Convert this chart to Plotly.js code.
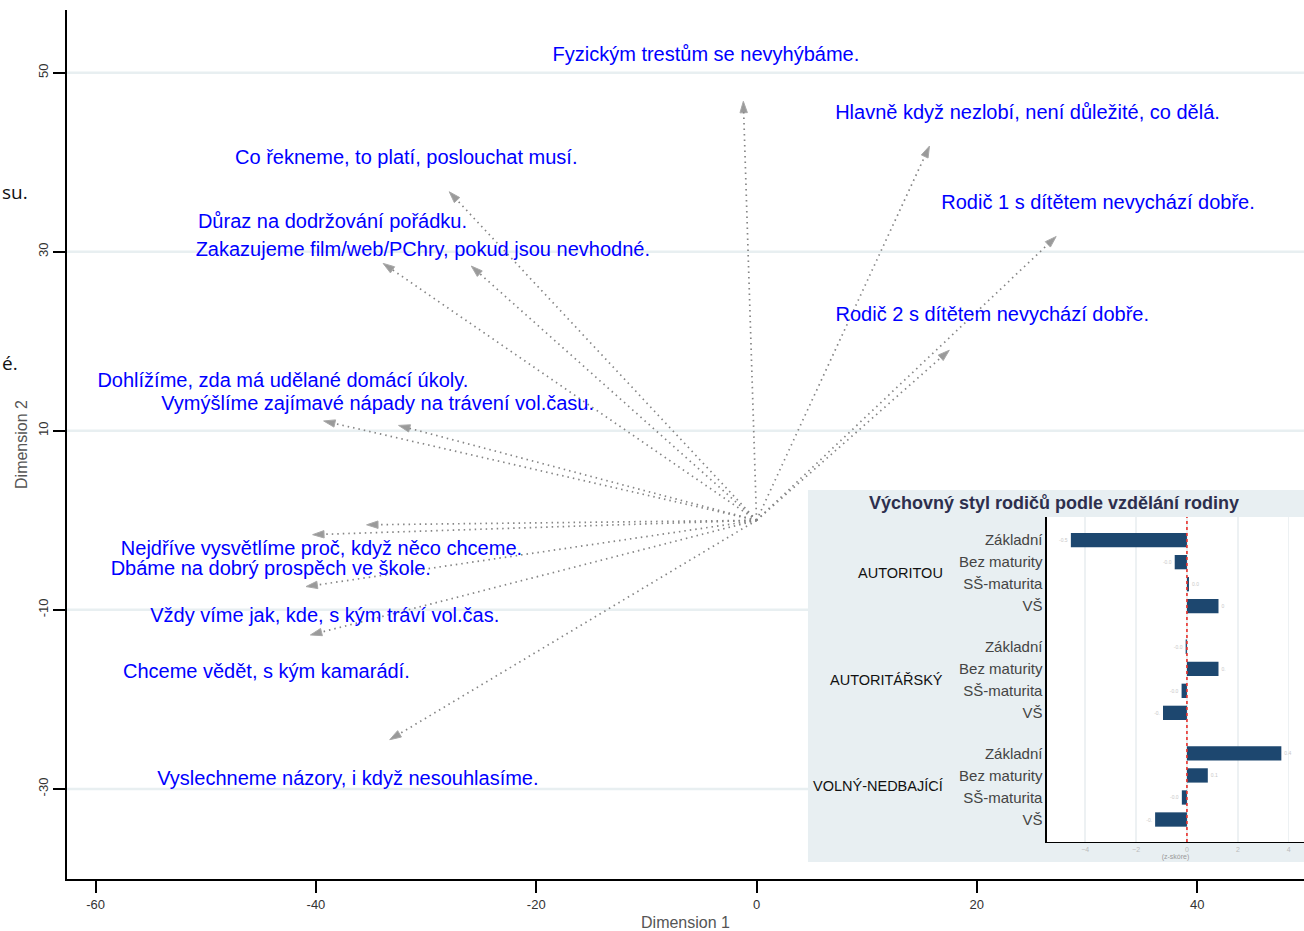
<!DOCTYPE html>
<html>
<head>
<meta charset="utf-8">
<script src="https://cdn.plot.ly/plotly-3.0.1.min.js"></script>
<style>
  html, body { margin: 0; padding: 0; background: #fff; }
  #chart { width: 1304px; height: 931px; }
</style>
</head>
<body>
<div id="chart"></div>
<script>
// ---- biplot: arrow end points (Dimension 1, Dimension 2) ----
const arrowX = [-1.2, 15.7, 27.2, 17.5, -27.9, -33.9, -25.9, -39.3, -32.5, -35.4, -40.3, -40.9, -40.5, -33.3];
const arrowY = [46.8, 41.8, 31.7, 19.0, 36.7, 28.7, 28.4, 11.1, 10.6, -0.5, -1.6, -7.4, -12.8, -24.5];

// ---- biplot: item labels ----
const labelText = [
  "Fyzickým trestům se nevyhýbáme.",
  "Hlavně když nezlobí, není důležité, co dělá.",
  "Rodič 1 s dítětem nevychází dobře.",
  "Rodič 2 s dítětem nevychází dobře.",
  "Co řekneme, to platí, poslouchat musí.",
  "Důraz na dodržování pořádku.",
  "Zakazujeme film/web/PChry, pokud jsou nevhodné.",
  "Dohlížíme, zda má udělané domácí úkoly.",
  "Vymýšlíme zajímavé nápady na trávení vol.času.",
  "Nejdříve vysvětlíme proč, když něco chceme.",
  "Dbáme na dobrý prospěch ve škole.",
  "Vždy víme jak, kde, s kým tráví vol.čas.",
  "Chceme vědět, s kým kamarádí.",
  "Vyslechneme názory, i když nesouhlasíme."
];
const labelX = [-4.6, 24.6, 31.0, 21.4, -31.8, -38.5, -30.3, -43.0, -34.4, -39.5, -44.1, -39.2, -44.5, -37.1];
const labelY = [51.9, 45.4, 35.3, 22.8, 40.4, 33.2, 30.1, 15.5, 12.9, -3.3, -5.6, -10.8, -17.0, -29.0];

const dimTicksX = [-60, -40, -20, 0, 20, 40];
const dimTicksY = [-30, -10, 10, 30, 50];

// ---- inset: parenting style by family education (z-score) ----
const styles = ["AUTORITOU", "AUTORITÁŘSKÝ", "VOLNÝ-NEDBAJÍCÍ"];
const education = ["Základní", "Bez maturity", "SŠ-maturita", "VŠ"];
const zAutoritou = [-4.56, -0.48, 0.08, 1.24];
const zAutoritarsky = [-0.05, 1.24, -0.21, -0.94];
const zVolny = [3.71, 0.82, -0.20, -1.25];
const barLabels = [
  ["-0.5", "-0.0", "0.0", "0"],
  ["-0.0", "0.", "-0.0", "-0."],
  ["0.4", "0.1", "-0.0", "-0."]
];
const insetTicks = [-4, -2, 0, 2, 4];

// ---- geometry helpers ----
const xRange = [-62.6, 49.7];
const yRange = [-40.06, 57.0];
const groupStep = 4.84;
const boxX = [0.599, 1.0];
const boxY = [0.0196, 0.4476];
const FONT = "Liberation Sans, Arial, sans-serif";

const traces = [];

// arrows: dotted line from origin + arrowhead
for (let i = 0; i < arrowX.length; i++) {
  traces.push({
    type: "scatter", mode: "lines+markers",
    x: [0, arrowX[i]], y: [0, arrowY[i]],
    line: { color: "#858585", width: 1.7, dash: "1.5px,4px" },
    marker: { symbol: "arrow", angleref: "previous", size: [0, 12], color: "#707070" },
    hoverinfo: "skip", showlegend: false, cliponaxis: false
  });
}

// labels
traces.push({
  type: "scatter", mode: "text",
  x: labelX, y: labelY, text: labelText,
  textposition: "middle center",
  textfont: { family: FONT, size: 20, color: "#0000ff" },
  hoverinfo: "skip", showlegend: false, cliponaxis: false
});

// inset bars
const allVals = [zAutoritou, zAutoritarsky, zVolny];
const barPos = [], barVals = [], barText = [], tickPos = [], tickTxt = [];
allVals.forEach((vals, g) => {
  vals.forEach((v, i) => {
    barPos.push(g * groupStep + i);
    barVals.push(v);
    barText.push(barLabels[g][i]);
    tickPos.push(g * groupStep + i);
    tickTxt.push(education[i]);
  });
});
traces.push({
  type: "bar", orientation: "h",
  x: barVals, y: barPos, width: 0.65,
  xaxis: "x2", yaxis: "y2",
  marker: { color: "#1d476f" },
  text: barText, textposition: "outside",
  textfont: { family: FONT, size: 5, color: "#c8c8c8" },
  cliponaxis: false, hoverinfo: "skip", showlegend: false
});

// ---- shapes ----
const shapes = [];
const ySpan = yRange[1] - yRange[0];
dimTicksY.forEach(v => {
  const py = (v - yRange[0]) / ySpan;
  const inBox = py > boxY[0] && py < boxY[1];
  shapes.push({
    type: "line", layer: "below", xref: "paper", yref: "y",
    x0: 0, x1: inBox ? boxX[0] : 1, y0: v, y1: v,
    line: { color: "#e8eff1", width: 2.5 }
  });
});
shapes.push({
  type: "rect", layer: "below", xref: "paper", yref: "paper",
  x0: boxX[0], x1: boxX[1], y0: boxY[0], y1: boxY[1],
  fillcolor: "#e8eff2", line: { width: 0 }
});
shapes.push({
  type: "rect", layer: "below", xref: "x2 domain", yref: "y2 domain",
  x0: 0, x1: 1, y0: 0, y1: 1,
  fillcolor: "#ffffff", line: { width: 0 }
});
shapes.push({
  type: "line", layer: "above", xref: "x2", yref: "y2 domain",
  x0: 0, x1: 0, y0: 0, y1: 1,
  line: { color: "#e8322c", width: 1.6, dash: "dot" }
});

// ---- annotations ----
const annotations = [
  { text: "su.", xref: "paper", yref: "y", x: -0.0542, y: 36.7, xanchor: "left",
    showarrow: false, font: { family: "Open Sans, sans-serif", size: 19, color: "#111" } },
  { text: "é.", xref: "paper", yref: "y", x: -0.0542, y: 17.6, xanchor: "left",
    showarrow: false, font: { family: "Open Sans, sans-serif", size: 19, color: "#111" } },
  { text: "Výchovný styl rodičů podle vzdělání rodiny", xref: "paper", yref: "paper",
    x: 0.7979, y: 0.4327, xanchor: "center", yanchor: "middle", showarrow: false,
    font: { family: FONT, size: 18, color: "#2d2f4e", weight: "bold" } }
];
styles.forEach((s, g) => {
  annotations.push({
    text: s, xref: "paper", yref: "y2", x: 0.7098, y: g * groupStep + 1.5,
    xanchor: "right", yanchor: "middle", showarrow: false,
    font: { family: FONT, size: 14.5, color: "#111" }
  });
});

const layout = {
  width: 1304, height: 931,
  margin: { l: 67, r: 0, t: 10, b: 52 },
  paper_bgcolor: "#ffffff", plot_bgcolor: "#ffffff",
  showlegend: false,
  font: { family: FONT },
  xaxis: {
    range: xRange, domain: [0, 1], tickvals: dimTicksX, ticktext: dimTicksX.map(String),
    ticks: "outside", ticklen: 12, tickwidth: 2, tickcolor: "#000",
    showline: true, linecolor: "#000", linewidth: 2,
    showgrid: false, zeroline: false,
    tickfont: { family: FONT, size: 13, color: "#333" },
    title: { text: "Dimension 1", font: { family: FONT, size: 16, color: "#555" }, standoff: 6 }
  },
  yaxis: {
    range: yRange, domain: [0, 1], tickvals: dimTicksY, ticktext: dimTicksY.map(String), tickangle: -90,
    ticks: "outside", ticklen: 12, tickwidth: 2, tickcolor: "#000",
    showline: true, linecolor: "#000", linewidth: 2,
    showgrid: false, zeroline: false,
    tickfont: { family: FONT, size: 13, color: "#333" },
    title: { text: "Dimension 2", font: { family: FONT, size: 16, color: "#555" }, standoff: 4 }
  },
  xaxis2: {
    domain: [0.7922, 1], anchor: "y2", range: [-5.5, 4.6], tickvals: insetTicks,
    showgrid: true, gridcolor: "#edf1f3", gridwidth: 1.5, zeroline: false,
    showline: true, linecolor: "#000", linewidth: 1.5, ticks: "",
    tickfont: { family: FONT, size: 7, color: "#bbb" },
    title: { text: "(z-skóre)", font: { family: FONT, size: 7, color: "#999" }, standoff: 0 }
  },
  yaxis2: {
    domain: [0.0426, 0.4166], anchor: "x2", range: [13.7, -1.05],
    tickvals: tickPos, ticktext: tickTxt, ticks: "",
    showline: true, linecolor: "#000", linewidth: 1.5,
    showgrid: false, zeroline: false,
    tickfont: { family: FONT, size: 15, color: "#444" }
  },
  shapes: shapes,
  annotations: annotations
};

Plotly.newPlot("chart", traces, layout, { displayModeBar: false, staticPlot: true });
</script>
</body>
</html>
